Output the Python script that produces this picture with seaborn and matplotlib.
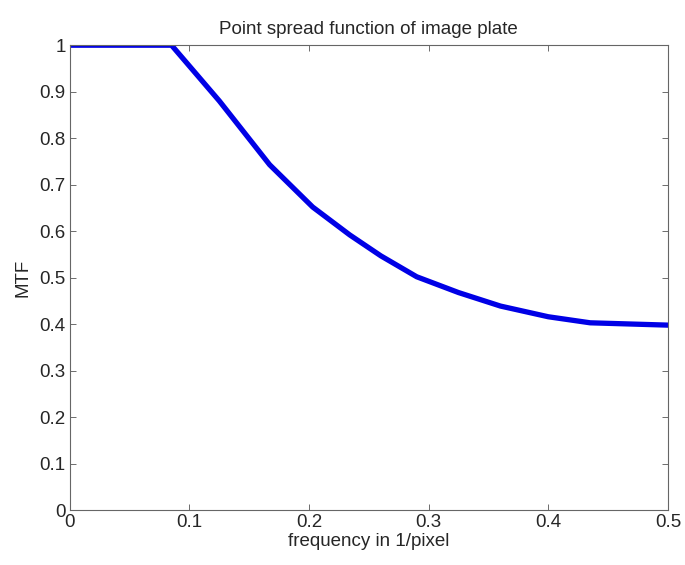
import matplotlib
matplotlib.use("Agg")
import matplotlib.pyplot as plt
import seaborn as sns
import pandas as pd

# MTF of the image plate versus spatial frequency
frequency = [0.0, 0.085, 0.125, 0.167, 0.203, 0.234, 0.26, 0.29, 0.325, 0.36, 0.40, 0.435, 0.5]
mtf = [1.0, 1.0, 0.88, 0.743, 0.652, 0.592, 0.547, 0.502, 0.468, 0.439, 0.416, 0.403, 0.398]

x_ticks = [0, 0.1, 0.2, 0.3, 0.4, 0.5]
x_tick_labels = ["0", "0.1", "0.2", "0.3", "0.4", "0.5"]
y_ticks = [0, 0.1, 0.2, 0.3, 0.4, 0.5, 0.6, 0.7, 0.8, 0.9, 1]
y_tick_labels = ["0", "0.1", "0.2", "0.3", "0.4", "0.5", "0.6", "0.7", "0.8", "0.9", "1"]

sns.set_style("ticks")
plt.rcParams["font.family"] = ["Liberation Sans", "DejaVu Sans"]

df = pd.DataFrame({"frequency": frequency, "MTF": mtf})

fig = plt.figure(figsize=(6.85, 5.65), dpi=100)
ax = fig.add_axes([0.102, 0.097, 0.873, 0.823])

sns.lineplot(data=df, x="frequency", y="MTF", ax=ax, color="#0000e6",
             linewidth=3.8, sort=False, estimator=None)

ax.set_xlim(0, 0.5)
ax.set_ylim(0, 1)
ax.set_xticks(x_ticks)
ax.set_xticklabels(x_tick_labels)
ax.set_yticks(y_ticks)
ax.set_yticklabels(y_tick_labels)

ax.tick_params(direction="in", length=4, width=0.6, color="#555555",
               labelsize=13.5, top=True, right=True, pad=3)
for side in ["left", "right", "top", "bottom"]:
    ax.spines[side].set_visible(True)
    ax.spines[side].set_color("#666666")
    ax.spines[side].set_linewidth(0.8)

ax.set_xlabel("frequency in 1/pixel", fontsize=13.5, labelpad=1)
ax.set_ylabel("MTF", fontsize=13.5, labelpad=6)
ax.set_title("Point spread function of image plate", fontsize=13.5, pad=8)

fig.savefig("out.png", dpi=100, facecolor="white")
